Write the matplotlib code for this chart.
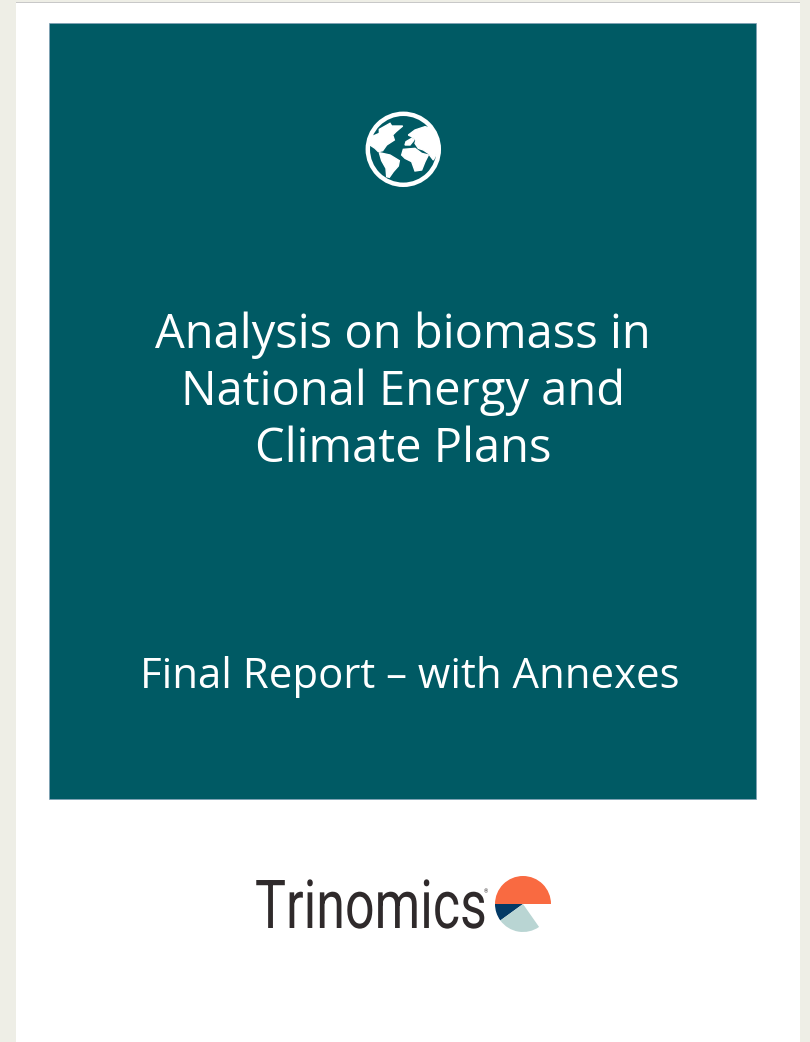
"""Report cover: teal panel with globe icon, title lines and Trinomics logo."""
import matplotlib
matplotlib.use("Agg")
import matplotlib.pyplot as plt
from matplotlib.patches import Circle, Polygon, Rectangle, Wedge
from matplotlib.patheffects import AbstractPathEffect
from matplotlib.transforms import Affine2D

TITLE_LINES = ["Analysis on biomass in", "National Energy and", "Climate Plans"]
SUBTITLE = "Final Report – with Annexes"
LOGO = "Trinomics"

TEAL = "#005a64"
BACKGROUND = "#eeeee6"

# globe outlines, in pixels of the icon crop (origin 340,90, 3x)
NORTH_AMERICA = [(118, 118), (150, 100), (155, 108), (188, 108), (168, 125), (158, 135), (163, 150),
                 (140, 165), (128, 182), (115, 185), (105, 175), (90, 165), (95, 140), (118, 130)]
SOUTH_AMERICA = [(118, 188), (150, 195), (178, 212), (175, 228), (160, 245), (148, 262), (140, 260),
                 (138, 235), (125, 212)]
EUROPE = [(198, 155), (215, 145), (222, 150), (210, 165), (195, 165)]
EURASIA = [(205, 135), (225, 120), (255, 110), (275, 115), (295, 150), (300, 180), (290, 190), (280, 210),
           (265, 190), (250, 180), (235, 175), (225, 160), (228, 150), (215, 140)]
AFRICA = [(190, 178), (225, 175), (245, 190), (265, 195), (255, 215), (245, 240), (225, 243), (215, 215),
          (195, 205), (185, 195)]
CONTINENTS = [NORTH_AMERICA, SOUTH_AMERICA, EUROPE, EURASIA, AFRICA]


class Squeeze(AbstractPathEffect):
    """Condense a text horizontally around x0 (display pixels), no narrow font installed."""

    def __init__(self, sx, x0):
        super().__init__()
        self.sx = sx
        self.x0 = x0

    def draw_path(self, renderer, gc, tpath, affine, rgbFace=None):
        squeeze = Affine2D().translate(-self.x0, 0).scale(self.sx, 1).translate(self.x0, 0)
        renderer.draw_path(gc, tpath, affine + squeeze, rgbFace)


fig = plt.figure(figsize=(8.10, 10.42), dpi=100, facecolor=BACKGROUND)
ax = fig.add_axes([0, 0, 1, 1])
ax.set_xlim(0, 810)
ax.set_ylim(1042, 0)
ax.axis("off")

# page and panel
ax.add_patch(Rectangle((16, 3), 784, 1039, facecolor="white", edgecolor="none"))
ax.add_patch(Rectangle((16, 1.5), 784, 1.5, facecolor="#c8c8c8", edgecolor="none"))
ax.add_patch(Rectangle((49, 23), 707, 776, facecolor=TEAL, edgecolor="#7f9fb5", linewidth=0.5))

# globe
ax.add_patch(Circle((403.3, 149.3), 35.5, facecolor="none", edgecolor="white", linewidth=3.2))
for outline in CONTINENTS:
    pts = [(340 + x / 3, 90 + y / 3) for x, y in outline]
    ax.add_patch(Polygon(pts, closed=True, facecolor="white", edgecolor="white", linewidth=1))

# title
for line, y in zip(TITLE_LINES, [348, 405, 462]):
    ax.text(403, y, line, color="white", fontsize=33.9, family="Open Sans", ha="center", va="baseline")
ax.text(410, 688, SUBTITLE, color="white", fontsize=30.2, family="Open Sans", ha="center", va="baseline")

# logo
ax.text(255, 928, LOGO, color="#2f2a2b", fontsize=48.6, family="Roboto",
        ha="left", va="baseline", path_effects=[Squeeze(0.77, 255)])
ax.text(484, 893, "®", color="#2f2a2b", fontsize=4, family="Roboto", ha="left", va="baseline")
ax.add_patch(Wedge((523, 904), 28, 180, 360, facecolor="#f96a41", edgecolor="none"))
ax.add_patch(Wedge((523, 904), 28, 144, 180, facecolor="#033a66", edgecolor="none"))
ax.add_patch(Wedge((523, 904), 28, 55, 144, facecolor="#b9d5d3", edgecolor="none"))

fig.savefig("out.png", dpi=100, facecolor=fig.get_facecolor())
